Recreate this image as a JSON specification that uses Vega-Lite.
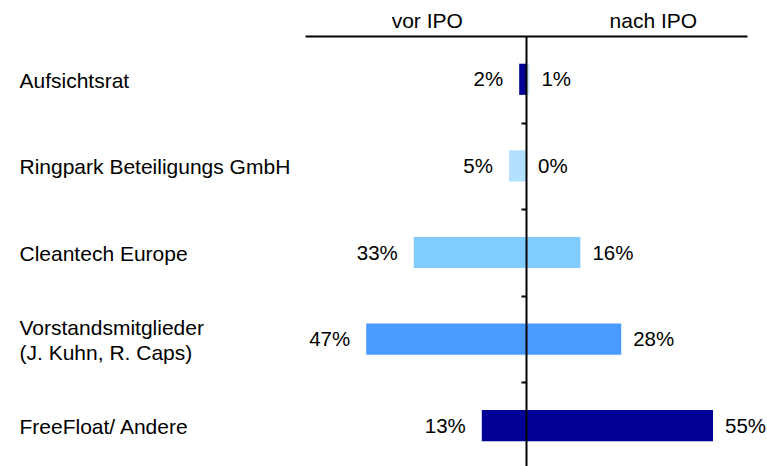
{
  "$schema": "https://vega.github.io/schema/vega-lite/v6.json",
  "autosize": {"type": "none"},
  "padding": {"left": 305, "top": 36, "right": 20, "bottom": 0},
  "width": 442,
  "height": 433,
  "background": "white",
  "config": {"view": {"stroke": null}, "font": "Liberation Sans"},
  "data": {
    "values": [
      {"group": "Aufsichtsrat", "period": "vor IPO", "share": 0.02},
      {"group": "Aufsichtsrat", "period": "nach IPO", "share": 0.01},
      {"group": "Ringpark Beteiligungs GmbH", "period": "vor IPO", "share": 0.05},
      {"group": "Ringpark Beteiligungs GmbH", "period": "nach IPO", "share": 0.0},
      {"group": "Cleantech Europe", "period": "vor IPO", "share": 0.33},
      {"group": "Cleantech Europe", "period": "nach IPO", "share": 0.16},
      {"group": "Vorstandsmitglieder (J. Kuhn, R. Caps)", "period": "vor IPO", "share": 0.47},
      {"group": "Vorstandsmitglieder (J. Kuhn, R. Caps)", "period": "nach IPO", "share": 0.28},
      {"group": "FreeFloat/ Andere", "period": "vor IPO", "share": 0.13},
      {"group": "FreeFloat/ Andere", "period": "nach IPO", "share": 0.55}
    ]
  },
  "transform": [
    {"calculate": "datum.period == 'vor IPO' ? -datum.share : datum.share", "as": "signed"}
  ],
  "encoding": {
    "y": {
      "field": "group",
      "type": "nominal",
      "sort": ["Aufsichtsrat", "Ringpark Beteiligungs GmbH", "Cleantech Europe", "Vorstandsmitglieder (J. Kuhn, R. Caps)", "FreeFloat/ Andere"],
      "scale": {"paddingInner": 0.64, "paddingOuter": 0.32},
      "axis": {
        "orient": "left",
        "offset": -221,
        "title": null,
        "grid": false,
        "zindex": 1,
        "domain": true,
        "domainColor": "black",
        "domainWidth": 2,
        "ticks": true,
        "tickOffset": 43.3,
        "tickSize": 5,
        "tickWidth": 2,
        "tickColor": "black",
        "labelAlign": "left",
        "labelBaseline": "middle",
        "labelPadding": 502,
        "labelLimit": 0,
        "labelOffset": {"condition": {"test": "indexof(datum.label, ' (') > 0", "value": -53.8}, "value": -41.3},
        "labelFontSize": 21,
        "labelFont": "Liberation Sans",
        "labelColor": "black",
        "labelLineHeight": 25,
        "labelExpr": "indexof(datum.label, ' (') > 0 ? [slice(datum.label, 0, indexof(datum.label, ' (')), slice(datum.label, indexof(datum.label, ' (') + 1)] : datum.label"
      }
    },
    "x": {
      "field": "signed",
      "type": "quantitative",
      "scale": {"domain": [-0.65, 0.65], "nice": false, "zero": false},
      "axis": {
        "orient": "top",
        "title": null,
        "grid": false,
        "values": [-0.292, 0.373],
        "labelExpr": "datum.value < 0 ? 'vor IPO' : 'nach IPO'",
        "ticks": false,
        "tickSize": 0,
        "domain": true,
        "domainColor": "black",
        "domainWidth": 2,
        "labelPadding": 9,
        "labelBaseline": "alphabetic",
        "labelFontSize": 21,
        "labelFont": "Liberation Sans",
        "labelColor": "black",
        "labelFlush": false,
        "labelOverlap": false,
        "zindex": 1
      }
    }
  },
  "layer": [
    {
      "mark": {"type": "bar"},
      "encoding": {
        "x2": {"datum": 0},
        "color": {
          "condition": {"test": "datum.group == 'Aufsichtsrat' && datum.period == 'nach IPO'", "value": "#CCE6FF"},
          "field": "group",
          "type": "nominal",
          "scale": {
            "domain": ["Aufsichtsrat", "Ringpark Beteiligungs GmbH", "Cleantech Europe", "Vorstandsmitglieder (J. Kuhn, R. Caps)", "FreeFloat/ Andere"],
            "range": ["#000096", "#B4E0FF", "#80CCFF", "#4A9BFF", "#000096"]
          },
          "legend": null
        }
      }
    },
    {
      "transform": [{"filter": "datum.period == 'vor IPO'"}],
      "mark": {"type": "text", "align": "right", "baseline": "middle", "dx": -16, "dy": 1, "fontSize": 20.5, "font": "Liberation Sans", "color": "black"},
      "encoding": {"text": {"field": "share", "type": "quantitative", "format": ".0%"}}
    },
    {
      "transform": [{"filter": "datum.period == 'nach IPO'"}],
      "mark": {"type": "text", "align": "left", "baseline": "middle", "dx": 12, "dy": 1, "fontSize": 20.5, "font": "Liberation Sans", "color": "black"},
      "encoding": {"text": {"field": "share", "type": "quantitative", "format": ".0%"}}
    }
  ]
}
